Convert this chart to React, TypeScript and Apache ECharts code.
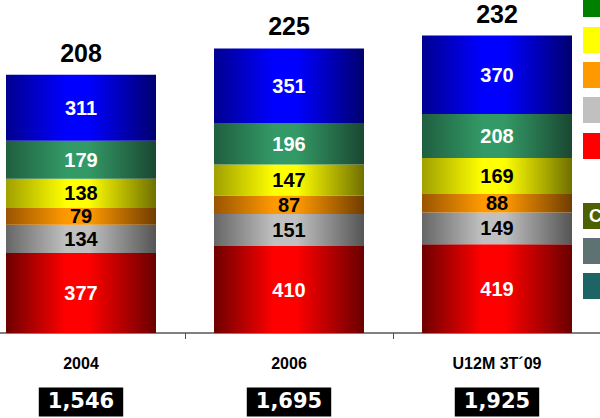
import React, { useEffect, useRef } from "react";
import * as echarts from "echarts";

const categories = ["2004", "2006", "U12M 3T´09"];
const redValues = [377, 410, 419];
const grayValues = [134, 151, 149];
const orangeValues = [79, 87, 88];
const yellowValues = [138, 147, 169];
const greenValues = [179, 196, 208];
const blueValues = [311, 351, 370];
const topLabels = ["208", "225", "232"];
const boxLabels = ["1,546", "1,695", "1,925"];

const grad = (d1: string, b: string, d2: string) =>
  new echarts.graphic.LinearGradient(0, 0, 1, 0, [
    { offset: 0, color: d1 },
    { offset: 0.4, color: b },
    { offset: 0.55, color: b },
    { offset: 1, color: d2 },
  ]);

const SANS = "'Liberation Sans', Arial, sans-serif";
const SHIFT = 23;

export default function App() {
  const ref = useRef<HTMLDivElement>(null);
  useEffect(() => {
    document.body.style.margin = "0";
    const chart = echarts.init(ref.current!, undefined, { renderer: "svg" });
    const totals = categories.map(
      (_, i) =>
        redValues[i] + grayValues[i] + orangeValues[i] + yellowValues[i] + greenValues[i] + blueValues[i]
    );
    const mk = (name: string, data: number[], color: any, labelColor: string) => ({
      name,
      type: "bar",
      stack: "s",
      data,
      barWidth: 150,
      itemStyle: { color },
      label: {
        show: true,
        position: "inside",
        color: labelColor,
        fontFamily: SANS,
        fontWeight: "bold",
        fontSize: 20,
      },
    });
    const legendItems = [
      { y: -9, c: "#008000" },
      { y: 27, c: "#FFFF00" },
      { y: 62, c: "#FF9900" },
      { y: 97, c: "#C0C0C0" },
      { y: 133, c: "#FF0000" },
      { y: 203, c: "#4D6100" },
      { y: 238, c: "#5E7272" },
      { y: 273, c: "#1E6464" },
    ];
    chart.setOption({
      animation: false,
      grid: { left: 0, right: 0, top: 15, bottom: 85 },
      xAxis: {
        type: "category",
        data: categories,
        axisLine: { lineStyle: { color: "#808080", width: 2 } },
        axisTick: { show: true, length: 6, lineStyle: { color: "#505050", width: 1 } },
        axisLabel: {
          margin: 33,
          interval: 0,
          formatter: (v: string, i: number) => `{a|${v}}\n{b|${boxLabels[i]}}`,
          rich: {
            a: {
              fontFamily: SANS,
              fontWeight: "bold",
              fontSize: 16,
              lineHeight: 20,
              color: "#000",
              padding: [0, 0, 26, 0],
            },
            b: {
              fontFamily: "'DejaVu Sans', sans-serif",
              fontWeight: "bold",
              fontSize: 21,
              lineHeight: 32,
              color: "#fff",
              backgroundColor: "#000",
              padding: [3, 9, 5, 9],
            },
          },
        },
      },
      yAxis: { type: "value", min: 0, max: 1500, show: false, splitLine: { show: false } },
      series: [
        mk("red", redValues, grad("#6E0000", "#FF0000", "#6A0000"), "#fff"),
        mk("gray", grayValues, grad("#666666", "#C0C0C0", "#555555"), "#000"),
        mk("orange", orangeValues, grad("#9A5500", "#FF9900", "#703D00"), "#000"),
        mk("yellow", yellowValues, grad("#A0A000", "#FFFF00", "#707000"), "#000"),
        mk("green", greenValues, grad("#1F5F40", "#339966", "#1A4731"), "#fff"),
        mk("blue", blueValues, grad("#000090", "#0000FF", "#000070"), "#fff"),
        {
          name: "totals",
          type: "scatter",
          data: totals,
          symbolSize: 1,
          itemStyle: { color: "rgba(0,0,0,0)", opacity: 1 },
          silent: true,
          label: {
            show: true,
            position: "top",
            distance: 9,
            formatter: (p: any) => topLabels[p.dataIndex],
            color: "#000",
            opacity: 1,
            fontFamily: SANS,
            fontWeight: "bold",
            fontSize: 25,
          },
        },
      ],
      graphic: [
        ...legendItems.map((it) => ({
          type: "rect",
          shape: { x: 583 + SHIFT, y: it.y, width: 26, height: 26 },
          style: { fill: it.c },
        })),
        {
          type: "text",
          x: 589 + SHIFT,
          y: 216,
          style: {
            text: "C",
            fill: "#fff",
            font: "bold 18px 'Liberation Sans', Arial, sans-serif",
            verticalAlign: "middle",
          },
        },
      ],
    });
    return () => chart.dispose();
  }, []);
  return (
    <div style={{ width: 600, height: 418, overflow: "hidden", position: "relative" }}>
      <div ref={ref} style={{ width: 600 + SHIFT + 1, height: 418, marginLeft: -SHIFT }} />
    </div>
  );
}
